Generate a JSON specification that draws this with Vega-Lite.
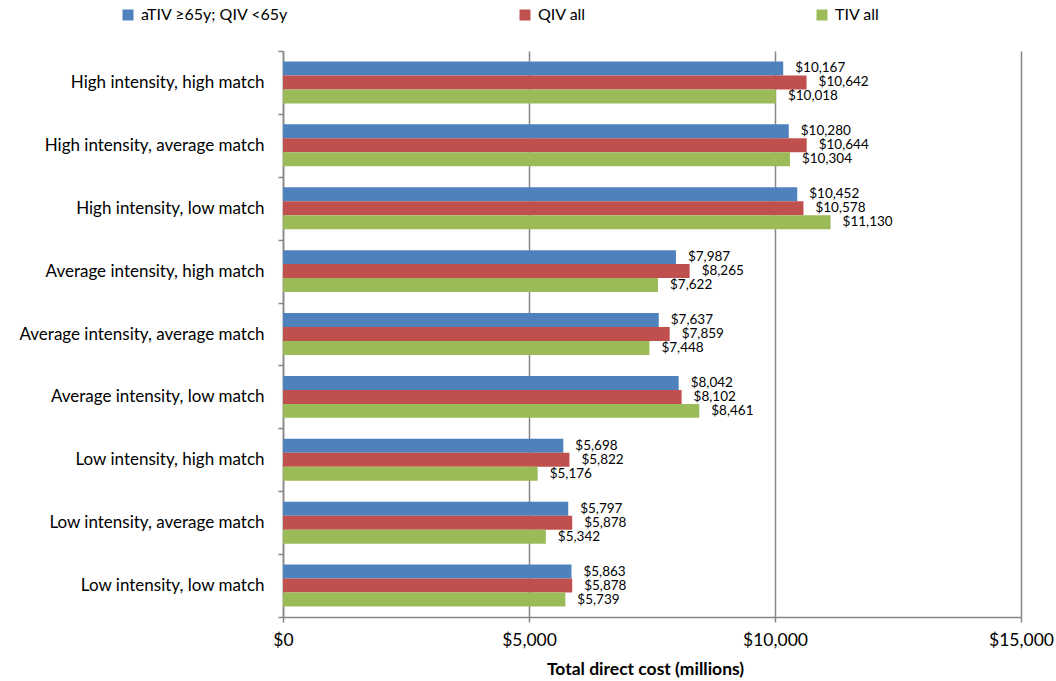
{
  "$schema": "https://vega.github.io/schema/vega-lite/v6.json",
  "autosize": {"type": "none"},
  "width": 738,
  "height": 566,
  "padding": {"left": 283, "top": 51, "right": 35, "bottom": 64},
  "background": "white",
  "config": {"font": "Lato", "view": {"stroke": null}},
  "data": {
    "values": [
      {"scenario": "High intensity, high match", "series": "aTIV ≥65y; QIV <65y", "cost": 10167},
      {"scenario": "High intensity, high match", "series": "QIV all", "cost": 10642},
      {"scenario": "High intensity, high match", "series": "TIV all", "cost": 10018},
      {"scenario": "High intensity, average match", "series": "aTIV ≥65y; QIV <65y", "cost": 10280},
      {"scenario": "High intensity, average match", "series": "QIV all", "cost": 10644},
      {"scenario": "High intensity, average match", "series": "TIV all", "cost": 10304},
      {"scenario": "High intensity, low match", "series": "aTIV ≥65y; QIV <65y", "cost": 10452},
      {"scenario": "High intensity, low match", "series": "QIV all", "cost": 10578},
      {"scenario": "High intensity, low match", "series": "TIV all", "cost": 11130},
      {"scenario": "Average intensity, high match", "series": "aTIV ≥65y; QIV <65y", "cost": 7987},
      {"scenario": "Average intensity, high match", "series": "QIV all", "cost": 8265},
      {"scenario": "Average intensity, high match", "series": "TIV all", "cost": 7622},
      {"scenario": "Average intensity, average match", "series": "aTIV ≥65y; QIV <65y", "cost": 7637},
      {"scenario": "Average intensity, average match", "series": "QIV all", "cost": 7859},
      {"scenario": "Average intensity, average match", "series": "TIV all", "cost": 7448},
      {"scenario": "Average intensity, low match", "series": "aTIV ≥65y; QIV <65y", "cost": 8042},
      {"scenario": "Average intensity, low match", "series": "QIV all", "cost": 8102},
      {"scenario": "Average intensity, low match", "series": "TIV all", "cost": 8461},
      {"scenario": "Low intensity, high match", "series": "aTIV ≥65y; QIV <65y", "cost": 5698},
      {"scenario": "Low intensity, high match", "series": "QIV all", "cost": 5822},
      {"scenario": "Low intensity, high match", "series": "TIV all", "cost": 5176},
      {"scenario": "Low intensity, average match", "series": "aTIV ≥65y; QIV <65y", "cost": 5797},
      {"scenario": "Low intensity, average match", "series": "QIV all", "cost": 5878},
      {"scenario": "Low intensity, average match", "series": "TIV all", "cost": 5342},
      {"scenario": "Low intensity, low match", "series": "aTIV ≥65y; QIV <65y", "cost": 5863},
      {"scenario": "Low intensity, low match", "series": "QIV all", "cost": 5878},
      {"scenario": "Low intensity, low match", "series": "TIV all", "cost": 5739}
    ]
  },
  "encoding": {
    "y": {
      "field": "scenario",
      "type": "nominal",
      "sort": null,
      "scale": {"paddingInner": 0, "paddingOuter": 0},
      "axis": {
        "title": null,
        "ticks": true,
        "tickBand": "extent",
        "labelFontSize": 17,
        "labelColor": "#000000",
        "labelLimit": 400,
        "labelPadding": 14,
        "tickSize": 5,
        "tickColor": "#868686",
        "tickWidth": 1.5,
        "domainColor": "#868686",
        "domainWidth": 1.5,
        "grid": false
      }
    },
    "yOffset": {
      "field": "series",
      "type": "nominal",
      "sort": ["aTIV ≥65y; QIV <65y", "QIV all", "TIV all"],
      "scale": {"paddingInner": 0, "paddingOuter": 0.75}
    },
    "x": {
      "field": "cost",
      "type": "quantitative",
      "scale": {"domain": [0, 15000], "nice": false},
      "axis": {
        "values": [0, 5000, 10000, 15000],
        "format": "$,.0f",
        "title": "Total direct cost (millions)",
        "titleFontSize": 17.5,
        "titleFontWeight": "bold",
        "titleColor": "#000000",
        "titlePadding": 12,
        "titleX": 362,
        "labelFontSize": 17.5,
        "labelColor": "#000000",
        "labelPadding": 9,
        "labelFlush": false,
        "tickSize": 5,
        "tickColor": "#868686",
        "tickWidth": 1.5,
        "domainColor": "#868686",
        "domainWidth": 1.5,
        "grid": true,
        "gridColor": "#868686",
        "gridWidth": 1.5
      }
    }
  },
  "layer": [
    {
      "mark": {"type": "bar", "height": {"band": 1}},
      "encoding": {
        "color": {
          "field": "series",
          "type": "nominal",
          "scale": {
            "domain": ["aTIV ≥65y; QIV <65y", "QIV all", "TIV all"],
            "range": ["#4F81BD", "#C0504D", "#9BBB59"]
          },
          "legend": {
            "title": null,
            "orient": "none",
            "direction": "horizontal",
            "legendX": -163,
            "legendY": -44,
            "symbolType": "square",
            "symbolSize": 121,
            "symbolStrokeWidth": 0,
            "labelFontSize": 16,
            "labelColor": "#000000",
            "labelOffset": 5,
            "columnPadding": 228,
            "symbolOpacity": 1
          }
        }
      }
    },
    {
      "mark": {"type": "text", "align": "left", "baseline": "middle", "dx": 12, "fontSize": 13.5, "color": "#000000"},
      "encoding": {
        "text": {"field": "cost", "type": "quantitative", "format": "$,.0f"}
      }
    }
  ]
}
